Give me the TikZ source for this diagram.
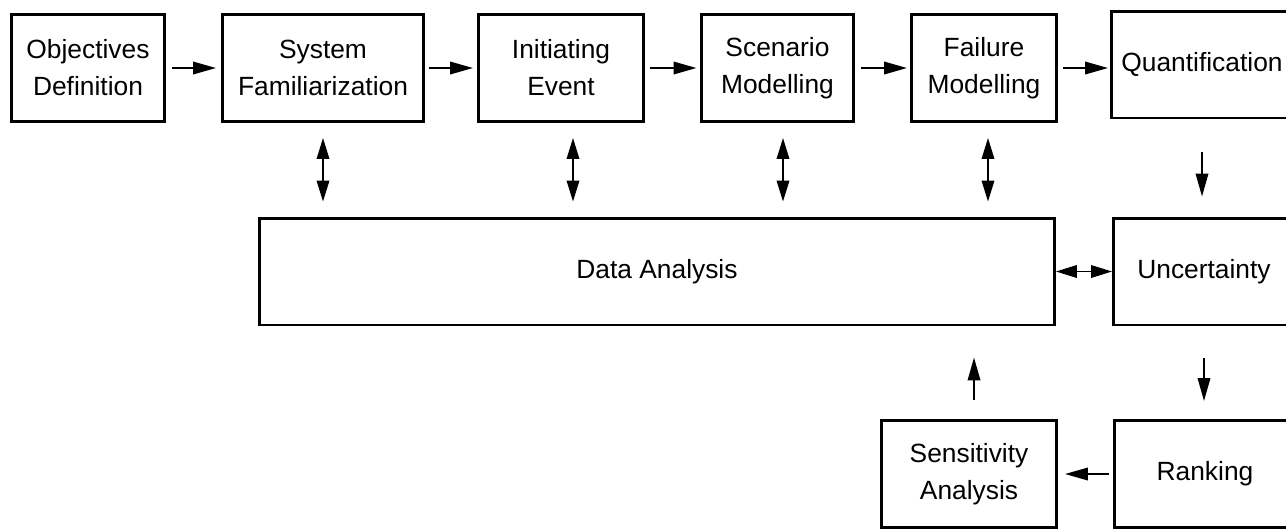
\documentclass[tikz,border=0pt]{standalone}
\usepackage{fontspec}
\setmainfont{Liberation Sans}
\usetikzlibrary{arrows.meta}

\begin{document}
\begin{tikzpicture}
	[
	 x = 0.02cm,
	 y = -0.02cm,
	 every node/.style = {shape=rectangle,
		                  draw,
		                  line width = 1.7pt,
		                  align=center,
		                  font=\fontsize{15}{21}\selectfont,
		                  inner sep = 2pt,
		                  minimum height = 2.14cm
                         },
    W1/.style = {minimum width = 3.06cm},
    W2/.style = {minimum width = 4.02cm},
    W3/.style = {minimum width = 3.30cm},
    W4/.style = {minimum width = 2.90cm},
    W5/.style = {minimum width = 3.62cm},
    W6/.style = {minimum width = 3.50cm},
    W7/.style = {minimum width = 15.90cm},
    tip/.style = {Triangle[length=0.46cm, width=0.25cm]},
    arr/.style = {-{Triangle[length=0.46cm, width=0.25cm]},
                  line width = 1.1pt},
    darr/.style = {{Triangle[length=0.42cm, width=0.25cm]}-{Triangle[length=0.42cm, width=0.25cm]},
                   line width = 1.1pt}
	]

	\useasboundingbox (0,0) rectangle (1286,528);
	\clip (0,0) rectangle (1286,528);

	\node [W1] (OD) at (88,68)    {Objectives\\Definition};
	\node [W2] (SF) at (323,68)   {System\\Familiarization};
	\node [W3] (IE) at (561,68)   {Initiating\\Event};
	\node [W1] (SM) at (777.5,68) {Scenario\\Modelling};
	\node [W4] (FM) at (984,68)   {Failure\\Modelling};
	\node [W5] (QU) at (1202,64.5) {Quantification};
	\node [W7] (DA) at (657,271.5) {Data Analysis};
	\node [W5] (UN) at (1204,271.5) {Uncertainty};
	\node [W6] (SA) at (969,474)  {Sensitivity\\Analysis};
	\node [W5] (RA) at (1205,474) {Ranking};

	\draw [arr, shorten <=0.12cm, shorten >=0.1cm] (OD) -- (SF);
	\draw [arr, shorten <=0.08cm, shorten >=0.08cm] (SF) -- (IE);
	\draw [arr, shorten <=0.1cm, shorten >=0.06cm] (IE) -- (SM);
	\draw [arr, shorten <=0.12cm, shorten >=0.06cm] (SM) -- (FM);
	\draw [arr, shorten <=0.1cm, shorten >=0.04cm] (FM.east) -- (FM.east -| QU.west);

	\draw [darr, shorten <=0.3cm, shorten >=0.3cm] (SF.south) -- (SF.south |- DA.north);
	\draw [darr, shorten <=0.3cm, shorten >=0.3cm] ([xshift=0.24cm]IE.south) -- ([xshift=0.24cm]IE.south |- DA.north);
	\draw [darr, shorten <=0.3cm, shorten >=0.3cm] ([xshift=0.11cm]SM.south) -- ([xshift=0.11cm]SM.south |- DA.north);
	\draw [darr, shorten <=0.3cm, shorten >=0.3cm] ([xshift=0.08cm]FM.south) -- ([xshift=0.08cm]FM.south |- DA.north);

	\draw [arr, shorten <=0.66cm, shorten >=0.4cm] (QU.south) -- (QU.south |- UN.north);
	\draw [darr] (DA.east) -- (DA.east -| UN.west);
	\draw [arr, shorten <=0.64cm, shorten >=0.36cm] (UN.south) -- (UN.south |- RA.north);
	\draw [arr, shorten <=0.08cm, shorten >=0.14cm] (RA.west) -- (RA.west -| SA.east);
	\draw [arr, shorten <=0.38cm, shorten >=0.62cm] ([xshift=0.1cm]SA.north) -- ([xshift=0.1cm]SA.north |- DA.south);
\end{tikzpicture}
\end{document}
